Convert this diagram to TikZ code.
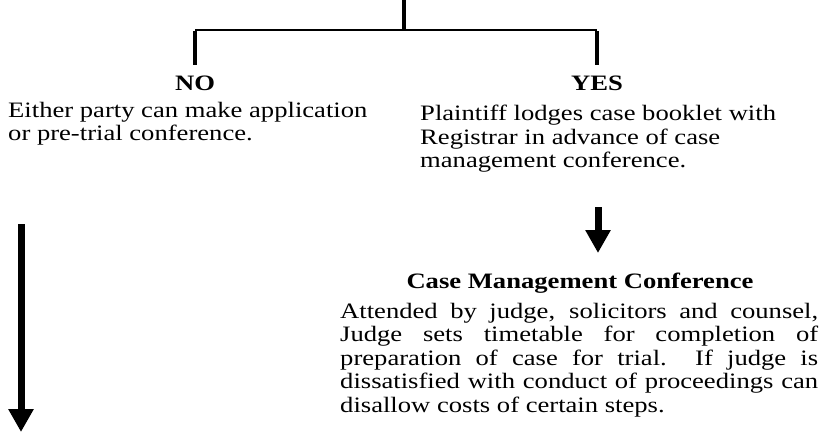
\documentclass[tikz,border=0pt]{standalone}
\usepackage{fontspec}
\setmainfont{Liberation Serif}[FakeStretch=1.21]
\usetikzlibrary{arrows.meta,positioning}
\newcommand{\bodysize}{\fontsize{22}{23.5}\selectfont}
\tikzset{
  txt/.style={font=\bodysize, inner sep=0pt, align=left},
  head/.style={font=\bodysize\bfseries, inner sep=0pt},
  stem/.style={line width=3.5pt},
  bar/.style={line width=2pt},
  bigarrow/.style={line width=7pt, -{Triangle[width=24pt,length=23pt]}},
}
\begin{document}
\begin{tikzpicture}[x=1pt,y=-1pt]
\useasboundingbox (0,0) rectangle (827,447);

% fork at the top
\coordinate (top)    at (404,0);
\coordinate (fork)   at (404,30);
\coordinate (noend)  at (195,65);
\coordinate (yesend) at (597,65);

\draw[stem] (top) -- (fork);
\draw[bar] (noend|-fork) -- (yesend|-fork);
\draw[stem] ([yshift=-1pt]noend|-fork) -- (noend);
\draw[stem] ([yshift=-1pt]yesend|-fork) -- (yesend);

% the two branches
\node[head, anchor=base] (no)  at (195,90) {NO};
\node[head, anchor=base] (yes) at (597,90) {YES};

\node[txt, anchor=north west] (notext) at (8,102)
  {Either party can make application\\or pre-trial conference.};
\node[txt, anchor=north west] (yestext) at (420,105)
  {Plaintiff lodges case booklet with\\Registrar in advance of case\\management conference.};

% case management conference
\node[head, anchor=base] (cmc) at (580,288) {Case Management Conference};
\node[txt, anchor=north west, text width=478pt, align=justify] (cmctext) at (340,303)
  {Attended by judge, solicitors and counsel,\linebreak
   Judge sets timetable for completion of\linebreak
   preparation of case for trial.\ \ If judge is\linebreak
   dissatisfied with conduct of proceedings can\linebreak
   disallow costs of certain steps.};

% arrows
\coordinate (yesfrom) at (598,207);
\coordinate (yesto)   at (598,253);
\coordinate (nofrom)  at (21,224);
\coordinate (noto)    at (21,432);

\draw[bigarrow] (yesfrom) -- (yesto);
\draw[bigarrow] (nofrom) -- (noto);

\end{tikzpicture}
\end{document}
